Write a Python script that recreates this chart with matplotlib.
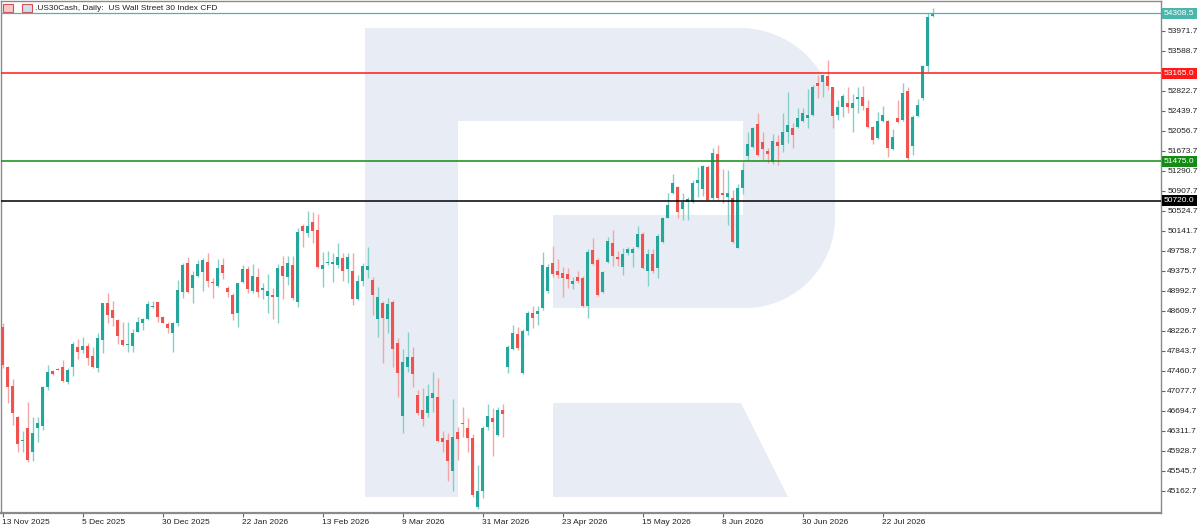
import numpy as np
import matplotlib
matplotlib.use('Agg')
import matplotlib.pyplot as plt
from matplotlib.patches import Polygon, Rectangle
from matplotlib.transforms import blended_transform_factory

# daily candles, .US30Cash
opens = [48310, 47531, 47174, 46586, 46124, 46363, 45903, 46363, 46414, 47161,
         47467, 47505, 47537, 47257, 47544, 47914, 47863, 47939, 47754, 47525,
         48054, 48756, 48629, 48437, 48054, 47959, 47946, 48214, 48386, 48450,
         48693, 48776, 48495, 48367, 48182, 48386, 48980, 49522, 49044, 49280,
         49363, 49548, 49171, 49088, 49484, 49056, 48916, 48565, 49171, 49414,
         48999, 49267, 49018, 48903, 48916, 48871, 49465, 49267, 49490, 48775,
         50237, 50109, 50314, 50161, 49414, 49535, 49516, 49490, 49618, 49414,
         49382, 48839, 49190, 49395, 49203, 48450, 48756, 48450, 48775, 48003,
         46599, 47531, 47735, 47001, 46714, 46650, 46937, 46969, 46171, 46139,
         45546, 46286, 46458, 46375, 46184, 44863, 45163, 46394, 46554, 46235,
         46714, 47531, 47875, 48169, 47429, 48233, 48565, 48552, 48660, 48992,
         49535, 49375, 49331, 49312, 49120, 49267, 49248, 48712, 49778, 49586,
         48967, 49554, 49905, 49637, 49458, 49727, 49727, 49829, 50084, 49382,
         49701, 49427, 49937, 50397, 50875, 50990, 50556, 50690, 50703, 51067,
         50939, 51373, 50767, 51610, 50863, 50799, 50767, 49822, 50958, 51578,
         51756, 52191, 51852, 51680, 51469, 51852, 51788, 52044, 52120, 52139,
         52248, 52299, 52363, 52969, 53001, 53110, 52893, 52363, 52522, 52599,
         52491, 52663, 52701, 52491, 52139, 51916, 52254, 52254, 51712, 52312,
         52267, 52829, 51776, 52350, 52682, 53301, 54259]
highs = [48380, 47550, 47308, 46600, 46312, 46873, 46573, 46573, 47174, 47576,
         47480, 47525, 47671, 47525, 48010, 48073, 48118, 47991, 47927, 48182,
         48770, 48948, 48801, 48450, 48405, 48405, 48265, 48488, 48482, 48801,
         48801, 48790, 48514, 48405, 48405, 49203, 49522, 49650, 49375, 49586,
         49618, 49714, 49235, 49599, 49618, 49088, 48961, 49139, 49490, 49478,
         49503, 49426, 49152, 49318, 49044, 49509, 49663, 49663, 49663, 50192,
         50269, 50531, 50512, 50467, 49746, 49758, 49726, 49905, 49714, 49714,
         49714, 49299, 49522, 49829, 49267, 49075, 48807, 48865, 48820, 48086,
         47882, 48214, 47927, 47097, 47129, 47206, 47448, 47320, 46312, 46267,
         46924, 46394, 46765, 46567, 46248, 45660, 46407, 46822, 46746, 46777,
         46822, 47958, 48341, 48297, 48258, 48616, 48712, 48705, 49746, 49503,
         49850, 49600, 49458, 49439, 49267, 49375, 49280, 49790, 50014, 49618,
         49375, 50033, 50161, 49758, 49810, 49829, 49829, 50237, 50129, 49790,
         49790, 50084, 50416, 50863, 51227, 51000, 50863, 50799, 51118, 51373,
         51405, 51405, 51724, 51788, 51322, 51310, 50927, 51035, 51469, 52044,
         52140, 52395, 52044, 51725, 51993, 51980, 52395, 52810, 52203, 52491,
         52491, 52854, 52937, 53129, 53148, 53416, 52905, 52650, 52765, 52893,
         52759, 52893, 52918, 52650, 52152, 52427, 52535, 52267, 52088, 52650,
         52969, 52893, 52363, 52663, 53320, 54310, 54405]
lows = [47520, 46842, 46427, 45903, 45903, 45712, 45737, 46095, 46331, 47097,
        47384, 47474, 47257, 47205, 47371, 47690, 47799, 47576, 47512, 47435,
        47799, 48373, 48322, 47971, 47946, 47831, 47818, 48200, 48246, 48437,
        48673, 48405, 48373, 48182, 47831, 48329, 48852, 48948, 48769, 49267,
        48999, 49063, 48852, 49063, 49222, 48884, 48437, 48309, 49139, 48948,
        48961, 48871, 48846, 48578, 48450, 48386, 48833, 49107, 48820, 48680,
        49841, 50020, 49905, 49426, 49063, 49484, 49165, 49426, 49184, 49139,
        48724, 48820, 49088, 49235, 48533, 48105, 47607, 48195, 47543, 46969,
        46280, 47448, 47161, 46618, 46408, 46586, 46682, 46108, 45916, 45354,
        45163, 45756, 46203, 45903, 45054, 44818, 45035, 46331, 45833, 46222,
        46203, 47429, 47863, 47863, 47397, 48150, 48290, 48341, 48628, 48960,
        49267, 49235, 48871, 49044, 49024, 49152, 48680, 48469, 49490, 48897,
        48948, 49535, 49471, 49471, 49299, 49682, 49458, 49810, 49420, 49088,
        49344, 49235, 49918, 50384, 50850, 50384, 50352, 50352, 50671, 50799,
        50812, 50722, 50735, 50735, 50671, 50256, 49905, 49810, 50850, 51501,
        51740, 51584, 51501, 51437, 51425, 51405, 51661, 51820, 51737, 52108,
        52235, 52108, 52344, 52682, 52701, 52842, 52108, 52267, 52331, 52395,
        52044, 52395, 52459, 52108, 51808, 51897, 52235, 51565, 51693, 52203,
        52248, 51501, 51597, 52331, 52650, 53193, 54246]
closes = [47576, 47161, 46650, 46056, 46139, 45756, 46280, 46459, 47148, 47448,
          47410, 47486, 47276, 47480, 47971, 47825, 47946, 47716, 47531, 48086,
          48756, 48533, 48469, 48137, 47959, 47975, 48182, 48393, 48450, 48737,
          48712, 48501, 48386, 48278, 48373, 49012, 49491, 48980, 49299, 49503,
          49586, 49184, 49152, 49433, 49331, 48973, 48552, 49139, 49407, 49024,
          49280, 48980, 49044, 48992, 48871, 49426, 49280, 49535, 48852, 50116,
          50141, 50244, 50141, 49458, 49490, 49548, 49541, 49650, 49382, 49650,
          48833, 49190, 49471, 49471, 48916, 48871, 48469, 48744, 47875, 47415,
          47633, 47735, 47397, 46650, 46535, 46982, 47033, 46120, 46107, 45737,
          46203, 46152, 46439, 46184, 45086, 45163, 46375, 46599, 46490, 46714,
          46637, 47927, 48182, 47907, 48233, 48565, 48469, 48616, 49490, 49458,
          49311, 49299, 49235, 49216, 49190, 49190, 48705, 49746, 49503, 48916,
          49350, 49956, 49663, 49599, 49701, 49790, 49790, 50084, 49439, 49701,
          49375, 50052, 50384, 50639, 51054, 50512, 50703, 50748, 51067, 51118,
          51393, 50735, 51629, 50767, 50831, 50863, 49937, 50958, 51310, 51808,
          52120, 51597, 51712, 51610, 51865, 51776, 52044, 52171, 51980, 52299,
          52395, 52363, 52905, 52918, 53129, 52918, 52344, 52522, 52733, 52510,
          52586, 52714, 52535, 52139, 51884, 52254, 52363, 51725, 51935, 52222,
          52791, 51533, 52331, 52548, 53301, 54233, 54308.5]

date_labels = ['13 Nov 2025', '5 Dec 2025', '30 Dec 2025', '22 Jan 2026',
               '13 Feb 2026', '9 Mar 2026', '31 Mar 2026', '23 Apr 2026',
               '15 May 2026', '8 Jun 2026', '30 Jun 2026', '22 Jul 2026']
price_ticks = [45162.7, 45545.7, 45928.7, 46311.7, 46694.7, 47077.7, 47460.7,
               47843.7, 48226.7, 48609.7, 48992.7, 49375.7, 49758.7, 50141.7,
               50524.7, 50907.7, 51290.7, 51673.7, 52056.7, 52439.7, 52822.7,
               53588.7, 53971.7]
levels = [54308.5, 53165.0, 51475.0, 50720.0]
level_colors = ['#4db6ac', '#ff1a1a', '#148c14', '#000000']

plt.rcParams['font.family'] = ['Liberation Sans', 'DejaVu Sans']

fig = plt.figure(figsize=(12, 5.26), dpi=100)

# watermark logo, drawn in pixel coordinates behind the chart
bg = fig.add_axes([0, 0, 1, 1], zorder=0)
bg.set_xlim(0, 1200)
bg.set_ylim(526, 0)
bg.axis('off')


def arc(cx, cy, r, a0, a1, n=40):
    t = np.radians(np.linspace(a0, a1, n))
    return list(zip(cx + r * np.cos(t), cy + r * np.sin(t)))


r_body = ([(365, 497), (365, 28)] + arc(740, 123, 95, -90, 0)
          + arc(745, 218, 90, 0, 90)
          + [(553, 308), (553, 215), (743, 215), (743, 121), (458, 121), (458, 497)])
r_leg = [(553, 403), (741, 403), (788, 497), (553, 497)]
wm = '#e8edf5'
bg.add_patch(Polygon(r_body, closed=True, fc=wm, ec='none'))
bg.add_patch(Polygon(r_leg, closed=True, fc=wm, ec='none'))

# little window icons next to the title
bg.add_patch(Rectangle((3, 4), 10, 8, fc='#f6c9c9', ec='#d45050', lw=0.8))
bg.add_patch(Rectangle((22, 4), 10, 8, fc='#cfe0f2', ec='#d45050', lw=0.8))

ax = fig.add_axes([1 / 1200, 13 / 526, 1160 / 1200, 512 / 526], zorder=1)
ax.patch.set_alpha(0)

o = np.array(opens, dtype=float)
h = np.array(highs, dtype=float)
l = np.array(lows, dtype=float)
c = np.array(closes, dtype=float)
x = np.arange(len(c))
up = c >= o

ax.vlines(x, l, h, colors=np.where(up, '#86cfc7', '#f5a5a5'), lw=1, zorder=2)
ax.bar(x, np.maximum(np.abs(c - o), 18), bottom=np.minimum(o, c), width=0.62,
       color=np.where(up, '#26a69a', '#ef5350'), linewidth=0, zorder=3)

for val, col in zip(levels, level_colors):
    ax.axhline(val, color=col, lw=1.1 if col != '#4db6ac' else 0.9, zorder=4)

ax.set_xlim(-0.3, 231.7)
ax.set_ylim(44741, 54546)

ax.yaxis.tick_right()
ax.set_yticks(price_ticks)
ax.set_yticklabels([f'{v:.1f}' for v in price_ticks])
ax.set_xticks(range(0, 16 * len(date_labels), 16))
ax.set_xticklabels(date_labels)
for t in ax.get_xticklabels():
    t.set_ha('left')
ax.tick_params(axis='both', length=3, width=0.8, color='#666666',
               labelsize=6, labelcolor='#222222', pad=1.5)

for side in ['left', 'right', 'top', 'bottom']:
    ax.spines[side].set_color('#8a8a8a')
    ax.spines[side].set_linewidth(1)
ax.spines['bottom'].set_linewidth(1.6)

tr = blended_transform_factory(ax.transAxes, ax.transData)
for val, col in zip(levels, level_colors):
    ax.text(1.0 + 3 / 1160, val, f'{val:.1f}', transform=tr, ha='left', va='center',
            fontsize=6, color='white', clip_on=False, zorder=6,
            bbox=dict(boxstyle='square,pad=0.25', fc=col, ec='none'))

fig.text(35 / 1200, 1 - 8 / 526, '.US30Cash, Daily:  US Wall Street 30 Index CFD',
         fontsize=6, color='#222222', ha='left', va='center', zorder=10,
         bbox=dict(boxstyle='square,pad=0.1', fc='white', ec='none'))

fig.savefig('out.png', dpi=100)
